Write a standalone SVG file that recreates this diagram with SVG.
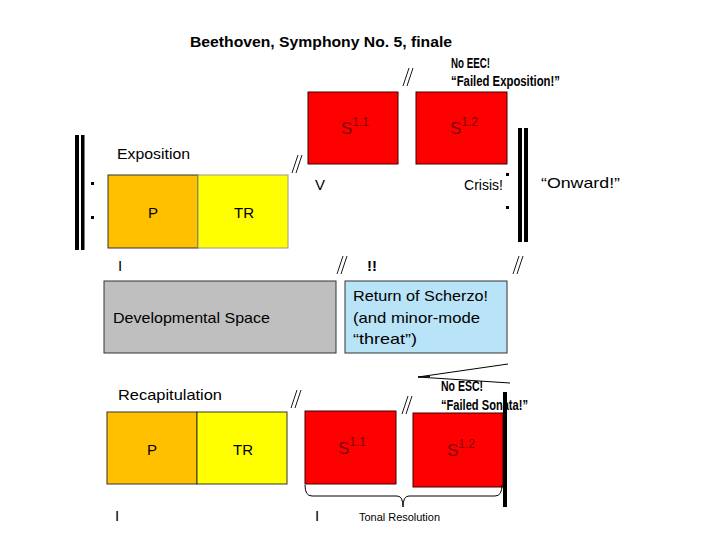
<svg xmlns="http://www.w3.org/2000/svg" width="720" height="540" viewBox="0 0 720 540">
<style>
text{font-family:"Liberation Sans",Arial,sans-serif;fill:#000}
.t15{font-size:15px}
.b13{font-size:14px;font-weight:bold}
.sl{stroke:#000;stroke-width:1;fill:none}
.bar{fill:#000}
.dot{fill:#000}
.slab{font-size:17px;fill:#7a0a0a}
.sup{font-size:12px;fill:#7a0a0a}
</style>
<defs>
<g id="dbl"><line x1="-1" y1="9" x2="5" y2="-9" stroke="#000" stroke-width="0.9"/><line x1="-5" y1="9" x2="1" y2="-9" stroke="#000" stroke-width="0.9"/></g>
</defs>
<rect width="720" height="540" fill="#fff"/>
<text x="190" y="47" style="font-size:15px;font-weight:bold" textLength="262" lengthAdjust="spacingAndGlyphs">Beethoven, Symphony No. 5, finale</text>

<g id="exposition">
<rect x="75" y="135" width="4" height="115" class="bar"/>
<rect x="81" y="135" width="3.5" height="115" class="bar"/>
<rect x="91" y="182" width="3" height="3" class="dot"/>
<rect x="91" y="216" width="3" height="3" class="dot"/>
<text x="117" y="159" class="t15" textLength="73" lengthAdjust="spacingAndGlyphs">Exposition</text>
</g>
<g id="exp-P"><rect x="108" y="175" width="90" height="73" fill="#FFC000" stroke="#333" stroke-width="1"/><text x="153" y="218" class="t15" text-anchor="middle">P</text></g>
<g id="exp-TR"><rect x="198" y="175" width="90" height="73" fill="#FFFF00" stroke="#9a9a8a" stroke-width="1"/><text x="244" y="218" class="t15" text-anchor="middle">TR</text></g>
<text x="118" y="271" class="t15">I</text>
<text x="315" y="190" class="t15">V</text>

<g id="exp-S11"><rect x="308" y="92" width="90" height="72" fill="#FF0000" stroke="#3a0000" stroke-width="1"/><text x="341" y="134" class="slab">S<tspan class="sup" dy="-8">1.1</tspan></text></g>
<g id="exp-S12"><rect x="416" y="92" width="91" height="72" fill="#FF0000" stroke="#3a0000" stroke-width="1"/><text x="450" y="134" class="slab">S<tspan class="sup" dy="-8">1.2</tspan></text></g>

<text x="451" y="68" class="b13" textLength="39" lengthAdjust="spacingAndGlyphs">No EEC!</text>
<text x="451" y="86" class="b13" textLength="109" lengthAdjust="spacingAndGlyphs">“Failed Exposition!”</text>

<g id="crisis">
<text x="464" y="190" class="t15" textLength="39" lengthAdjust="spacingAndGlyphs">Crisis!</text>
<rect x="506" y="173" width="3" height="3" class="dot"/>
<rect x="506" y="206" width="3" height="3" class="dot"/>
<rect x="518" y="128" width="4" height="114" class="bar"/>
<rect x="524" y="128" width="4" height="114" class="bar"/>
<text x="541" y="188" class="t15" textLength="79" lengthAdjust="spacingAndGlyphs">“Onward!”</text>
</g>

<g id="dev"><rect x="104" y="281" width="232" height="72" fill="#BFBFBF" stroke="#333" stroke-width="1"/><text x="113" y="323" class="t15" textLength="157" lengthAdjust="spacingAndGlyphs">Developmental Space</text></g>
<text x="367" y="271" class="t15" style="font-weight:bold">!!</text>

<g id="scherzo"><rect x="345" y="281" width="162" height="72" fill="#B9E4F8" stroke="#333" stroke-width="1"/>
<text x="353" y="301" class="t15" textLength="135" lengthAdjust="spacingAndGlyphs">Return of Scherzo!</text>
<text x="353" y="323" class="t15" textLength="127" lengthAdjust="spacingAndGlyphs">(and minor-mode</text>
<text x="353" y="344" class="t15" textLength="64" lengthAdjust="spacingAndGlyphs">“threat”)</text></g>

<g id="recap">
<text x="118" y="400" class="t15" textLength="104" lengthAdjust="spacingAndGlyphs">Recapitulation</text>
</g>
<g id="rec-P"><rect x="107" y="412" width="90" height="72" fill="#FFC000" stroke="#333" stroke-width="1"/><text x="152" y="455" class="t15" text-anchor="middle">P</text></g>
<g id="rec-TR"><rect x="197" y="412" width="90" height="72" fill="#FFFF00" stroke="#333" stroke-width="1"/><text x="243" y="455" class="t15" text-anchor="middle">TR</text></g>
<g id="rec-S11"><rect x="305" y="411" width="91" height="73" fill="#FF0000" stroke="#3a0000" stroke-width="1"/><text x="338" y="454" class="slab">S<tspan class="sup" dy="-8">1.1</tspan></text></g>
<g id="rec-S12"><rect x="413" y="413" width="90" height="74" fill="#FF0000" stroke="#3a0000" stroke-width="1"/><text x="447" y="456" class="slab">S<tspan class="sup" dy="-8">1.2</tspan></text></g>
<text x="441" y="391" class="b13" textLength="42" lengthAdjust="spacingAndGlyphs">No ESC!</text>
<text x="441" y="410" class="b13" textLength="87" lengthAdjust="spacingAndGlyphs">“Failed Sonata!”</text>
<rect x="503" y="392" width="4" height="115" class="bar"/>
<text x="115" y="521" class="t15">I</text>
<text x="315" y="521" class="t15">I</text>
<text x="359" y="521" style="font-size:11px" textLength="81" lengthAdjust="spacingAndGlyphs">Tonal Resolution</text>

<g id="connectors">
<use href="#dbl" x="297" y="164"/>
<use href="#dbl" x="408" y="77"/>
<use href="#dbl" x="342" y="265"/>
<use href="#dbl" x="518" y="265"/>
<use href="#dbl" x="296" y="399"/>
<use href="#dbl" x="407" y="405"/>
<path class="sl" d="M508,364 L418,377 L510,383"/>
<path class="sl" d="M418,377 L430,376.5" stroke-width="2"/>
<path class="sl" d="M305,485 Q305,496 312,496 L397,496 Q403,496 403,507 M403,507 Q403,496 409,496 L495,496 Q502,496 502,485"/>
</g>
</svg>
